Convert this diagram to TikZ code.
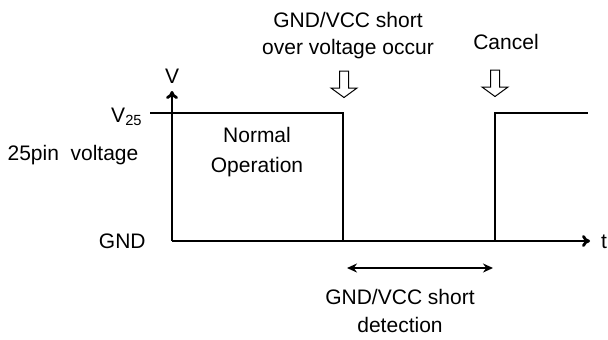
\documentclass[tikz,border=0pt]{standalone}
\usepackage{fontspec}
\setmainfont{Liberation Sans}
\usetikzlibrary{arrows.meta,positioning}

\tikzset{
  lbl/.style={font=\fontsize{10.5}{13.5}\selectfont, inner sep=0pt},
  axis/.style={line width=1.4pt, -{To[length=4pt,width=6pt]}},
  signal/.style={line width=1.4pt},
  dimline/.style={line width=1pt, {Stealth[length=5pt,width=4.5pt]}-{Stealth[length=5pt,width=4.5pt]}},
  holarrow/.pic={
    \draw[line width=0.5pt] (-4.5,-13) -- (-4.5,4) -- (-13,4) -- (0,13.5) -- (13,4) -- (4.5,4) -- (4.5,-13) -- cycle;
  }
}

\begin{document}
\begin{tikzpicture}[x=0.5pt, y=-0.5pt]
\useasboundingbox (0,0) rectangle (608,339);
% axes
\coordinate (orig) at (172,241);
\coordinate (vtip) at (172,91);
\coordinate (ttip) at (590,241);
\draw[axis] (orig) -- (vtip);
\draw[axis] (orig) -- (ttip);
\node[lbl, anchor=base] (vlab) at (172,83) {V};
\node[lbl, anchor=base] (tlab) at (604,248) {t};
% signal
\coordinate (tick) at (150,113);
\coordinate (fallTop) at (343,113);
\coordinate (fallBot) at (343,241);
\coordinate (riseBot) at (495,241);
\coordinate (riseTop) at (495,113);
\coordinate (hiEnd) at (588,113);
\draw[signal] (tick) -- (fallTop) -- (fallBot) -- (riseBot) -- (riseTop) -- (hiEnd);
% left labels
\node[lbl, anchor=base east] (v25) at (143,122) {V\textsubscript{25}};
\node[lbl, anchor=base] (pinlab) at (73,160) {25pin\ \ voltage};
\node[lbl, anchor=base east] (gndlab) at (146,248) {GND};
\node[lbl, align=center] (normal) at (257,152.5) {Normal\\[1.5pt]Operation};
% events
\node[lbl, align=center] (shortlab) at (348,35.5) {GND/VCC short\\over voltage occur};
\node[lbl, anchor=base] (cancel) at (506,49) {Cancel};
\pic (arrA) at (344,84) {holarrow};
\pic (arrB) at (495,83) {holarrow};
% detection span
\coordinate (detL) at (347,268);
\coordinate (detR) at (493,268);
\draw[dimline] (detL) -- (detR);
\node[lbl, align=center] (detlab) at (400,311) {GND/VCC short\\[0.5pt]detection};
\end{tikzpicture}
\end{document}
